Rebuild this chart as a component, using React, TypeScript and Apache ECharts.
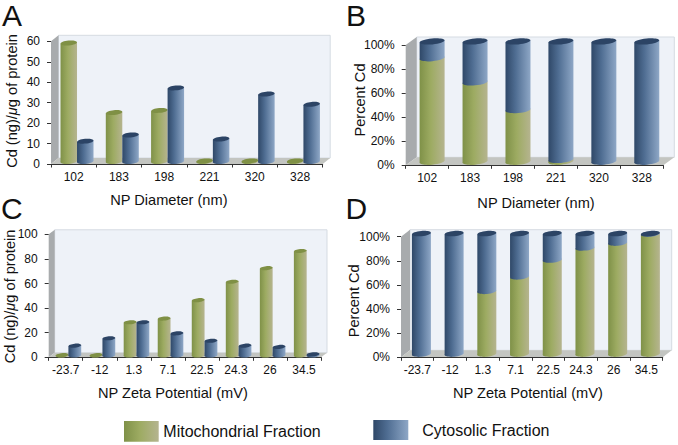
import React, { useEffect, useRef } from "react";
import * as echarts from "echarts";

const diameterCats = ["102", "183", "198", "221", "320", "328"];
const zetaCats = ["-23.7", "-12", "1.3", "7.1", "22.5", "24.3", "26", "34.5"];

const aMito = [58, 24, 25, 0.3, 0.3, 0.3];
const aCyto = [10, 13, 36, 11, 33, 28];
const bMito = [86, 66, 43, 1.5, 0, 0];
const bCyto = [14, 34, 57, 98.5, 100, 100];
const cMito = [0.3, 0.3, 27, 30, 45, 60, 71, 85];
const cCyto = [8, 14, 27, 18, 12, 8, 7, 1];
const dMito = [0, 0, 52, 64, 78, 88, 92, 99.5];
const dCyto = [100, 100, 48, 36, 22, 12, 8, 0.5];

const FONT = '"Liberation Sans", Arial, sans-serif';

const grad = (stops: [number, string][]) =>
  new echarts.graphic.LinearGradient(0, 0, 1, 0, stops.map(([offset, color]) => ({ offset, color })));
const greenFill = () => grad([[0, "#7f9148"], [0.45, "#9dab62"], [1, "#b5b48f"]]);
const blueFill = () => grad([[0, "#2f4868"], [0.4, "#4f6d92"], [1, "#8ea7c6"]]);
const greenCap = "#7f9045";
const blueCap = "#2c4465";

type Panel = {
  left: number; right: number; top: number; bottom: number;
  dx: number; dy: number; barW: number; ry: number; tilt: number;
};

const panels: Panel[] = [
  { left: 51, right: 322.7, top: 41.3, bottom: 164, dx: 7.5, dy: -6, barW: 16.5, ry: 2.4, tilt: 0.09 },
  { left: 405.7, right: 663.3, top: 45, bottom: 165.3, dx: 11, dy: -8, barW: 25, ry: 3, tilt: 0.09 },
  { left: 48.7, right: 321, top: 234.3, bottom: 357.3, dx: 6, dy: -4.5, barW: 12.8, ry: 2, tilt: 0.09 },
  { left: 401, right: 662.7, top: 236.7, bottom: 357.3, dx: 9, dy: -7, barW: 19, ry: 2.6, tilt: 0.09 },
];

function cylinder(cx: number, yBottom: number, yTop: number, rx: number, ry: number, tilt: number, fill: any, cap: string | null) {
  const rise = rx * tilt;
  const children: any[] = [
    { type: "ellipse", x: cx, y: yBottom, rotation: tilt, shape: { cx: 0, cy: 0, rx, ry }, style: { fill } },
    {
      type: "polygon",
      shape: { points: [[cx - rx, yTop + rise], [cx + rx, yTop - rise], [cx + rx, yBottom - rise], [cx - rx, yBottom + rise]] },
      style: { fill },
    },
  ];
  if (cap) children.push({ type: "ellipse", x: cx, y: yTop, rotation: tilt, shape: { cx: 0, cy: 0, rx, ry }, style: { fill: cap } });
  return { type: "group", children };
}

// Side-by-side cylinders (panels A and C)
function groupedSeries(gridIndex: number, values: number[], side: number, fill: () => any, cap: string, name: string) {
  const p = panels[gridIndex];
  return {
    type: "custom", name, xAxisIndex: gridIndex, yAxisIndex: gridIndex, z: side < 0 ? 3 : 4, silent: true,
    data: values.map((v, i) => [i, v]),
    renderItem: (_: any, api: any) => {
      const base = api.coord([api.value(0), 0]);
      const top = api.coord([api.value(0), api.value(1)]);
      const shift = p.dy * 0.4;
      const cx = base[0] + p.dx * 0.45 + (side * p.barW) / 2;
      return cylinder(cx, base[1] + shift, top[1] + shift, p.barW / 2, p.ry, p.tilt, fill(), cap);
    },
  };
}

// Cylinders with one part on another (panels B and D); the values are read as [category, from, to]
function stackedSeries(gridIndex: number, values: number[], from: number[] | null, fill: () => any, cap: string | null, name: string, z: number) {
  const p = panels[gridIndex];
  return {
    type: "custom", name, xAxisIndex: gridIndex, yAxisIndex: gridIndex, z, silent: true,
    data: values.map((v, i) => [i, from ? from[i] : 0, (from ? from[i] : 0) + v]),
    renderItem: (_: any, api: any) => {
      if (api.value(2) <= api.value(1)) return null;
      const bottom = api.coord([api.value(0), api.value(1)]);
      const top = api.coord([api.value(0), api.value(2)]);
      const shift = p.dy * 0.45;
      const cx = bottom[0] + p.dx * 0.45;
      return cylinder(cx, bottom[1] + shift, top[1] + shift, p.barW / 2, p.ry, p.tilt, fill(), cap);
    },
  };
}

function room(p: Panel) {
  const { left, right, top, bottom, dx, dy } = p;
  const wallTop = top + dy;
  return [
    {
      type: "polygon", z: 0, silent: true,
      shape: { points: [[left + dx, wallTop], [right + dx, wallTop], [right + dx, bottom + dy], [left + dx, bottom + dy]] },
      style: { fill: "#eef2f8", stroke: "#d5dbe2", lineWidth: 1 },
    },
    {
      type: "polygon", z: 0, silent: true,
      shape: { points: [[left, top], [left + dx, wallTop], [left + dx, bottom + dy], [left, bottom]] },
      style: { fill: "#a8abad" },
    },
    {
      type: "polygon", z: 0, silent: true,
      shape: { points: [[left, bottom], [right, bottom], [right + dx, bottom + dy], [left + dx, bottom + dy]] },
      style: { fill: "#c3c5c1" },
    },
  ];
}

function option(): any {
  const cats = [diameterCats, diameterCats, zetaCats, zetaCats];
  const grid = panels.map((p) => ({
    left: p.left, top: p.top, width: p.right - p.left, height: p.bottom - p.top, containLabel: false,
  }));
  const xNames = ["NP Diameter (nm)", "NP Diameter (nm)", "NP Zeta Potential (mV)", "NP Zeta Potential (mV)"];
  const yMax = [60, 100, 100, 100];
  const yStep = [10, 20, 20, 20];
  const xGap = [28, 30, 28, 28];
  const xPad = [[0, 36, 0, 0], [0, 0, 0, 3], [0, 24, 0, 0], [0, 8, 0, 0]];
  const line = { show: true, lineStyle: { color: "#333", width: 1 } };
  const xAxis = cats.map((data, i) => ({
    type: "category", gridIndex: i, data,
    name: xNames[i], nameLocation: "middle", nameGap: xGap[i],
    nameTextStyle: { fontFamily: FONT, fontSize: 14.6, color: "#111", padding: xPad[i] },
    axisLine: line,
    axisTick: { show: true, alignWithLabel: false, length: 3.5, lineStyle: { color: "#333" } },
    axisLabel: { interval: 0, fontFamily: FONT, fontSize: 12, color: "#111", margin: 7 },
    splitLine: { show: false },
  }));
  const yAxis = yMax.map((max, i) => ({
    type: "value", gridIndex: i, min: 0, max, interval: yStep[i],
    axisLine: { show: false },
    axisTick: { show: true, length: 4, lineStyle: { color: "#333" } },
    axisLabel: {
      fontFamily: FONT, fontSize: 12, color: "#111", margin: 11,
      formatter: i === 1 || i === 3 ? "{value}%" : "{value}",
    },
    splitLine: { show: false },
  }));
  const series = [
    groupedSeries(0, aMito, -1, greenFill, greenCap, "Mitochondrial Fraction"),
    groupedSeries(0, aCyto, 1, blueFill, blueCap, "Cytosolic Fraction"),
    stackedSeries(1, bMito, null, greenFill, null, "Mitochondrial Fraction", 3),
    stackedSeries(1, bCyto, bMito, blueFill, blueCap, "Cytosolic Fraction", 4),
    groupedSeries(2, cMito, -1, greenFill, greenCap, "Mitochondrial Fraction"),
    groupedSeries(2, cCyto, 1, blueFill, blueCap, "Cytosolic Fraction"),
    stackedSeries(3, dMito, null, greenFill, null, "Mitochondrial Fraction", 3),
    stackedSeries(3, dCyto, dMito, blueFill, blueCap, "Cytosolic Fraction", 4),
  ];
  const letter = (text: string, x: number, y: number) => ({
    type: "text", x, y, silent: true,
    style: { text, fontFamily: FONT, fontSize: 30, fill: "#111", textVerticalAlign: "top" },
  });
  const legendText = (text: string, x: number, y: number) => ({
    type: "text", x, y, silent: true,
    style: { text, fontFamily: FONT, fontSize: 16, fill: "#111", textVerticalAlign: "middle" },
  });
  const swatch = (x: number, y: number, width: number, height: number, fill: any) => ({
    type: "rect", x, y, silent: true, shape: { x: 0, y: 0, width, height }, style: { fill },
  });
  const yTitle = (text: string, x: number, y: number) => ({
    type: "text", x, y, rotation: Math.PI / 2, silent: true,
    style: {
      text, fontFamily: FONT, fontSize: 14.6, fill: "#111", align: "center", verticalAlign: "middle",
      rich: {
        t: { fontFamily: FONT, fontSize: 14.6, fill: "#111" },
        i: { fontFamily: FONT, fontSize: 14.6, fill: "#111", fontStyle: "italic" },
      },
    },
  });
  const cdTitle = "{t|Cd (ng)/}{i|μ}{t|g of protein}";
  return {
    animation: false,
    backgroundColor: "#ffffff",
    grid, xAxis, yAxis, series,
    graphic: [
      ...panels.flatMap(room),
      yTitle(cdTitle, 12, 101),
      yTitle("{t|Percent Cd}", 360, 100),
      yTitle(cdTitle, 10, 296.5),
      yTitle("{t|Percent Cd}", 354, 300.8),
      letter("A", 2, 0),
      letter("B", 346, 0),
      letter("C", 1, 193),
      letter("D", 345.5, 193),
      swatch(124, 421, 34.7, 20.7, greenFill()),
      legendText("Mitochondrial Fraction", 163.3, 431.7),
      swatch(373.3, 420, 35, 20, blueFill()),
      legendText("Cytosolic Fraction", 422.3, 430.3),
    ],
  };
}

export default function App() {
  const ref = useRef<HTMLDivElement>(null);
  useEffect(() => {
    const chart = echarts.init(ref.current as HTMLDivElement, undefined, { renderer: "svg" });
    chart.setOption(option());
    return () => chart.dispose();
  }, []);
  return <div ref={ref} style={{ position: "absolute", left: 0, top: 0, width: 678, height: 445 }} />;
}
